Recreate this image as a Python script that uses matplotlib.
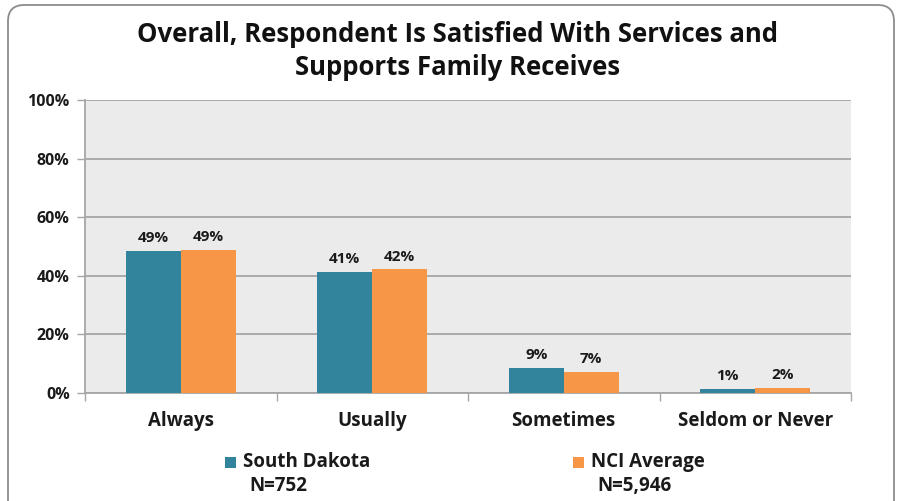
import matplotlib
matplotlib.use("Agg")
import matplotlib.pyplot as plt
import numpy as np
from matplotlib.patches import FancyBboxPatch, Rectangle

categories = ["Always", "Usually", "Sometimes", "Seldom or Never"]
south_dakota = [48.5, 41.3, 8.6, 1.4]
nci_average = [48.8, 42.3, 7.2, 1.7]
sd_labels = ["49%", "41%", "9%", "1%"]
nci_labels = ["49%", "42%", "7%", "2%"]
series_names = ["South Dakota", "NCI Average"]
series_n = ["N=752", "N=5,946"]
yticks = [0, 20, 40, 60, 80, 100]
title = "Overall, Respondent Is Satisfied With Services and\nSupports Family Receives"

plt.rcParams['font.family'] = ['Open Sans', 'DejaVu Sans']
teal = "#31849B"
orange = "#F79646"
txt = "#1A1A1A"

fig = plt.figure(figsize=(9, 5.01), dpi=100)
fig.patch.set_facecolor("white")

# rounded frame
frame = FancyBboxPatch((8/900, -30/501), 886/900, (501-5+30)/501,
                       boxstyle="round,pad=0,rounding_size=0.018",
                       transform=fig.transFigure, facecolor="none",
                       edgecolor="#8C8C8C", linewidth=1.3, mutation_aspect=900/501)
fig.patches.append(frame)

ax = fig.add_axes([85/900, 1-393/501, (851-85)/900, (393-100)/501])
ax.set_facecolor("#EBEBEB")
x = np.arange(len(categories))
w = 0.2875
b1 = ax.bar(x - w/2, south_dakota, w, color=teal, zorder=3)
b2 = ax.bar(x + w/2, nci_average, w, color=orange, zorder=3)
for bars, labs in ((b1, sd_labels), (b2, nci_labels)):
    for rect, lab in zip(bars, labs):
        ax.annotate(lab, (rect.get_x() + rect.get_width()/2, rect.get_height()),
                    xytext=(0, 4), textcoords="offset points", ha="center", va="bottom",
                    fontsize=11, fontweight="bold", color=txt)

ax.set_xlim(-0.5, len(categories) - 0.5)
ax.set_ylim(0, 100)
ax.set_yticks(yticks)
ax.set_yticklabels([f"{v}%" for v in yticks], fontsize=11.5, fontweight="bold", color=txt)
ax.yaxis.grid(True, color="#A6A6A6", linewidth=1.3, zorder=0)
ax.set_axisbelow(True)
ax.tick_params(axis="y", length=6, color="#A6A6A6", width=1, pad=5)

ax.set_xticks(x)
ax.set_xticklabels(categories, fontsize=13.5, fontweight="bold", color=txt)
ax.tick_params(axis="x", length=0, pad=13)
ax.set_xticks(np.arange(len(categories) + 1) - 0.5, minor=True)
ax.tick_params(axis="x", which="minor", length=6, color="#A6A6A6", width=1)

for s in ["top", "right"]:
    ax.spines[s].set_visible(False)
for s in ["left", "bottom"]:
    ax.spines[s].set_color("#A6A6A6")
    ax.spines[s].set_linewidth(1.3)

fig.text(458/900, 1-51/501, title, ha="center", va="center", fontsize=18.5,
         fontweight="bold", color="#111111", linespacing=1.3)

# legend
leg_items = [(225, series_names[0], series_n[0], teal, 249),
             (573, series_names[1], series_n[1], orange, 597)]
for lx, name, n, col, nx in leg_items:
    fig.patches.append(Rectangle((lx/900, 1-468/501), 11/900, 11/501,
                                 transform=fig.transFigure, facecolor=col, edgecolor="none"))
    fig.text((lx+18)/900, 1-462/501, name, ha="left", va="center",
             fontsize=13.5, fontweight="bold", color=txt)
    fig.text(nx/900, 1-486/501, n, ha="left", va="center",
             fontsize=13.5, fontweight="bold", color=txt)

fig.savefig("out.png", dpi=100)
